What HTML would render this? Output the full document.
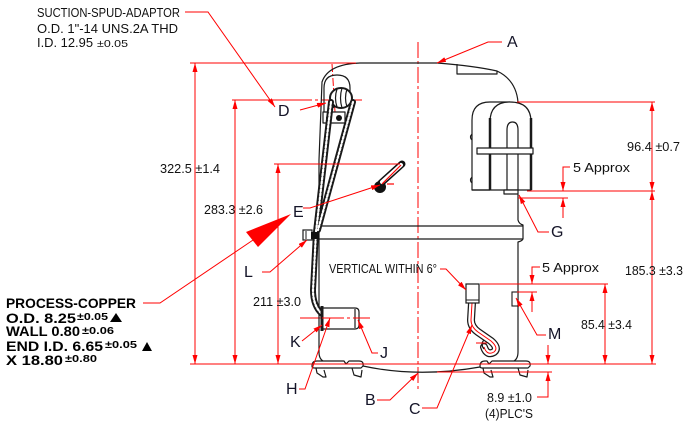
<!DOCTYPE html>
<html><head><meta charset="utf-8"><style>
html,body{margin:0;padding:0;background:#fff;}
svg{display:block;}
text{font-family:"Liberation Sans",Arial,sans-serif;}
</style></head><body>
<svg width="693" height="428" viewBox="0 0 693 428" xmlns="http://www.w3.org/2000/svg">
<defs>
<marker id="a" viewBox="0 0 9 5" refX="9" refY="2.5" markerWidth="9" markerHeight="5" markerUnits="userSpaceOnUse" orient="auto-start-reverse"><path d="M0,0 L9,2.5 L0,5 z" fill="#f00"/></marker>
</defs>
<rect width="693" height="428" fill="#fff"/>

<!-- centerlines -->
<g stroke="#f00" stroke-width="1" fill="none">
<line x1="418" y1="42" x2="418" y2="392" stroke-dasharray="16,3,3,3"/>
<line x1="304" y1="100" x2="362" y2="100" stroke-dasharray="8,3,3,3"/>
<line x1="332" y1="64" x2="335" y2="112" stroke-dasharray="8,2,2,2"/>
<line x1="300" y1="318" x2="370" y2="318" stroke-dasharray="22,3,3,3"/>
</g>

<!-- compressor body -->
<g stroke="#1a1a1a" stroke-width="1.2" fill="none" stroke-linejoin="round">
<path d="M319,160 L322,82 Q328,64 360,63 L437,63 Q475,66 497,71 Q516,80 518,102"/>
<path d="M319,160 L319,352 Q319,360 325,362"/>
<path d="M457,64 L457,74 L497,74 L497,71"/>
<!-- terminal box -->
<path d="M490,190 L472,190 L472,120 Q472,102 490,102 L510,102" fill="#fff"/>
<path d="M490,190 L490,122 Q490,102 510,102 Q531,102 531,122 L531,190 L472,190" fill="#fff"/>
<path d="M507,190 L507,130 Q507,122 512.5,122 Q518,122 518,130 L518,190"/>
<line x1="490" y1="118" x2="490" y2="190" stroke-width="2.5"/>
<line x1="531" y1="118" x2="531" y2="190" stroke-width="2.5"/>
<path d="M472,134 Q469,137 472,140 M472,177 Q469,180 472,183"/>
<rect x="477" y="148" width="56" height="6" fill="#fff"/>
<rect x="504" y="190" width="14" height="4" fill="#fff"/>
<path d="M518,194 L518,220 Q519,224 523,225 L523,239 Q522,241 518,242 L518,352 Q518,360 512,362"/>
<line x1="316" y1="226" x2="523" y2="226"/>
<line x1="316" y1="239" x2="523" y2="239"/>
<!-- bottom curve -->
<path d="M363,366 Q418,378 480,367"/>
<!-- feet -->
<path d="M312,366 Q312,361 317,361 L344,361 L346,364 L349,361 L359,361 Q364,361 363,366 L361,368 L314,368 Q312,368 312,366 Z" fill="#fff"/>
<path d="M316,368 L317,373 L323,377 L326,377 L324,370 M352,368 L354,375 L361,377 L362,370"/>
<path d="M480,366 Q480,361 485,361 L487,361 L489,364 L492,361 L526,361 Q531,361 530,366 L528,368 L482,368 Q480,368 480,366 Z" fill="#fff"/>
<path d="M483,368 L484,373 L490,377 L493,377 L491,370 M518,368 L520,375 L527,377 L528,370"/>
<!-- spud housing -->
<path d="M324,123 L324,88 Q324,75 337,75 Q350,75 350,88 L350,100"/>
<rect x="323" y="112" width="22" height="11" fill="#fff"/>
<ellipse cx="341" cy="98" rx="11" ry="10" fill="#fff" stroke-width="2"/>
<path d="M337,89 Q334,98 337,107 M342,88 Q339,98 342,108 M347,89 Q344,98 347,107"/>
</g>
<circle cx="329" cy="118" r="3" fill="#111"/>
<circle cx="339" cy="118" r="3" fill="#111"/>
<circle cx="333" cy="106" r="2" fill="#111"/>

<!-- hatched suction pipes -->
<g fill="none" stroke-linecap="round">
<path d="M331,102 L316,232 L313,290 Q313,306 322,314" stroke="#1a1a1a" stroke-width="6"/>
<path d="M353,102 L318,230" stroke="#1a1a1a" stroke-width="6"/>
<path d="M331,102 L316,232 L313,290 Q313,306 322,314" stroke="#fff" stroke-width="2.2" stroke-dasharray="2,2"/>
<path d="M353,102 L318,230" stroke="#fff" stroke-width="2.2" stroke-dasharray="2,2"/>
</g>

<!-- L fitting -->
<rect x="303" y="230" width="9" height="10" fill="#fff" stroke="#1a1a1a" stroke-width="1.2"/>
<line x1="306" y1="231" x2="306" y2="239" stroke="#1a1a1a"/>
<rect x="311" y="232" width="8" height="7" fill="#111"/>

<!-- K/J fitting -->
<g stroke="#1a1a1a" stroke-width="1.2" fill="#fff">
<path d="M322,308 L355,308 Q359,308 359,312 L359,325 Q359,329 355,329 L322,329"/>
<line x1="355" y1="309" x2="355" y2="328"/>
<line x1="322" y1="306" x2="322" y2="331" stroke-width="3"/>
</g>
<line x1="322" y1="318" x2="370" y2="318" stroke="#f00" stroke-width="1" stroke-dasharray="22,3,3,3"/>

<!-- tube C -->
<path d="M472,303 L471,320 Q471,327 478,332 L491,341 Q499,348 494,352 Q487,356 484,347" fill="none" stroke="#1a1a1a" stroke-width="8" stroke-linecap="round"/>
<path d="M472,303 L471,320 Q471,327 478,332 L491,341 Q499,348 494,352 Q487,356 484,347" fill="none" stroke="#fff" stroke-width="5.5" stroke-linecap="round"/>
<path d="M472,303 L471,320 Q471,327 478,332 L491,341 Q499,348 494,352 Q487,356 484,347" fill="none" stroke="#f00" stroke-width="1"/>
<path d="M484,340 Q480,344 484,349" fill="none" stroke="#1a1a1a" stroke-width="1.2"/>
<line x1="476" y1="343" x2="487" y2="343" stroke="#f00"/>
<rect x="466" y="284" width="13" height="19" fill="#fff" stroke="#1a1a1a" stroke-width="1.2"/>
<line x1="466" y1="300" x2="479" y2="300" stroke="#1a1a1a"/>

<!-- M box -->
<rect x="512" y="292" width="6" height="14" fill="#fff" stroke="#1a1a1a" stroke-width="1.1"/>

<!-- E fitting -->
<circle cx="380" cy="187" r="6" fill="#111"/>
<line x1="381" y1="183" x2="402" y2="164" stroke="#111" stroke-width="7" stroke-linecap="round"/>
<line x1="382" y1="182" x2="401" y2="165" stroke="#fff" stroke-width="4" stroke-linecap="round"/>
<line x1="382" y1="184" x2="401" y2="165" stroke="#f00" stroke-width="1.2"/>
<line x1="387" y1="184" x2="394" y2="184" stroke="#f00" stroke-width="1.2"/>

<!-- dimensions & leaders -->
<g stroke="#f00" stroke-width="1" fill="none">
<line x1="190" y1="63" x2="356" y2="63"/>
<line x1="195" y1="63" x2="195" y2="364" marker-start="url(#a)" marker-end="url(#a)"/>
<line x1="232" y1="100" x2="304" y2="100"/>
<line x1="235" y1="100" x2="235" y2="364" marker-start="url(#a)" marker-end="url(#a)"/>
<line x1="274" y1="164" x2="400" y2="164"/>
<line x1="278" y1="164" x2="278" y2="364" marker-start="url(#a)" marker-end="url(#a)"/>
<line x1="190" y1="364" x2="656" y2="364"/>
<line x1="517" y1="102" x2="655" y2="102"/>
<line x1="527" y1="191" x2="655" y2="191"/>
<line x1="652" y1="102" x2="652" y2="191" marker-start="url(#a)" marker-end="url(#a)"/>
<line x1="652" y1="191" x2="652" y2="364" marker-start="url(#a)" marker-end="url(#a)"/>
<line x1="480" y1="284" x2="608" y2="284"/>
<line x1="605" y1="284" x2="605" y2="364" marker-start="url(#a)" marker-end="url(#a)"/>
<line x1="517" y1="292" x2="537" y2="292"/>
<polyline points="540,267 532,267 532,284" marker-end="url(#a)"/>
<line x1="532" y1="312" x2="532" y2="292" marker-end="url(#a)"/>
<line x1="518" y1="198" x2="568" y2="198"/>
<polyline points="570,167 563,167 563,191" marker-end="url(#a)"/>
<line x1="563" y1="218" x2="563" y2="198" marker-end="url(#a)"/>
<line x1="437" y1="372" x2="552" y2="372"/>
<line x1="548" y1="345" x2="548" y2="364" marker-end="url(#a)"/>
<polyline points="537,397 548,397 548,372" marker-end="url(#a)"/>

<polyline points="185,12 208,12 275,107" marker-end="url(#a)"/>
<polyline points="300,110 326,103" marker-end="url(#a)"/>
<polyline points="502,42 488,42 437,63" marker-end="url(#a)"/>
<polyline points="303,208 310,208 380,185" marker-end="url(#a)"/>
<polyline points="143,303 160,303 256,238"/>
<polyline points="262,272 270,272 307,240" marker-end="url(#a)"/>
<polyline points="302,341 322,325" marker-end="url(#a)"/>
<polyline points="299,389 305,389 330,318" marker-end="url(#a)"/>
<polyline points="378,353 372,353 358,320" marker-end="url(#a)"/>
<polyline points="377,400 390,400 418,373" marker-end="url(#a)"/>
<polyline points="422,408 437,408 472,325" marker-end="url(#a)"/>
<polyline points="440,269 446,269 466,290" marker-end="url(#a)"/>
<polyline points="546,335 537,335 516,298" marker-end="url(#a)"/>
<polyline points="549,232 538,232 519,195" marker-end="url(#a)"/>
</g>
<polygon points="291,214 246,232 258,247" fill="#f00"/>

<!-- suction text -->
<g fill="#111" font-size="12.5">
<text x="37" y="17" textLength="143" lengthAdjust="spacingAndGlyphs">SUCTION-SPUD-ADAPTOR</text>
<text x="37" y="33" textLength="141" lengthAdjust="spacingAndGlyphs">O.D.  1"-14  UNS.2A  THD</text>
<text x="37" y="47" textLength="56" lengthAdjust="spacingAndGlyphs">I.D.  12.95</text>
<text x="97" y="47" font-size="10.5" textLength="31" lengthAdjust="spacingAndGlyphs">±0.05</text>
</g>

<!-- process copper text -->
<g fill="#000" font-weight="bold">
<text x="6" y="308" font-size="14" textLength="130" lengthAdjust="spacingAndGlyphs">PROCESS-COPPER</text>
<text x="6" y="323" font-size="14" textLength="70" lengthAdjust="spacingAndGlyphs">O.D.  8.25</text>
<text x="77" y="320" font-size="10.5" textLength="31" lengthAdjust="spacingAndGlyphs">±0.05</text>
<text x="6" y="336" font-size="14" textLength="74" lengthAdjust="spacingAndGlyphs">WALL  0.80</text>
<text x="82" y="334" font-size="10.5" textLength="32" lengthAdjust="spacingAndGlyphs">±0.06</text>
<text x="6" y="351" font-size="14" textLength="97" lengthAdjust="spacingAndGlyphs">END  I.D.  6.65</text>
<text x="105" y="348" font-size="10.5" textLength="32" lengthAdjust="spacingAndGlyphs">±0.05</text>
<text x="6" y="365" font-size="14" textLength="57" lengthAdjust="spacingAndGlyphs">X  18.80</text>
<text x="65" y="362" font-size="10.5" textLength="32" lengthAdjust="spacingAndGlyphs">±0.80</text>
</g>
<polygon points="110,322 116,313 122,322" fill="#000"/>
<polygon points="142,351 147,342 152,351" fill="#000"/>

<!-- dimension text -->
<g fill="#111" font-size="13">
<text x="160" y="173" textLength="60" lengthAdjust="spacingAndGlyphs">322.5  ±1.4</text>
<text x="204" y="214" textLength="59" lengthAdjust="spacingAndGlyphs">283.3 ±2.6</text>
<text x="253" y="306" textLength="48" lengthAdjust="spacingAndGlyphs">211 ±3.0</text>
<text x="627" y="151" textLength="53" lengthAdjust="spacingAndGlyphs">96.4 ±0.7</text>
<text x="573" y="172" textLength="57" lengthAdjust="spacingAndGlyphs">5  Approx</text>
<text x="625" y="275" textLength="58" lengthAdjust="spacingAndGlyphs">185.3 ±3.3</text>
<text x="542" y="272" textLength="57" lengthAdjust="spacingAndGlyphs">5  Approx</text>
<text x="581" y="329" textLength="51" lengthAdjust="spacingAndGlyphs">85.4 ±3.4</text>
<text x="487" y="402" textLength="45" lengthAdjust="spacingAndGlyphs">8.9 ±1.0</text>
<text x="485" y="418" textLength="48" lengthAdjust="spacingAndGlyphs">(4)PLC'S</text>
<text x="329" y="273" textLength="108" lengthAdjust="spacingAndGlyphs">VERTICAL  WITHIN  6°</text>
</g>

<!-- labels -->
<g fill="#141428" font-size="16">
<text x="507" y="47">A</text>
<text x="278" y="116">D</text>
<text x="293" y="217">E</text>
<text x="244" y="277">L</text>
<text x="290" y="347">K</text>
<text x="380" y="358">J</text>
<text x="286" y="394">H</text>
<text x="365" y="405">B</text>
<text x="409" y="414">C</text>
<text x="548" y="339">M</text>
<text x="551" y="237">G</text>
</g>
</svg>
</body></html>
